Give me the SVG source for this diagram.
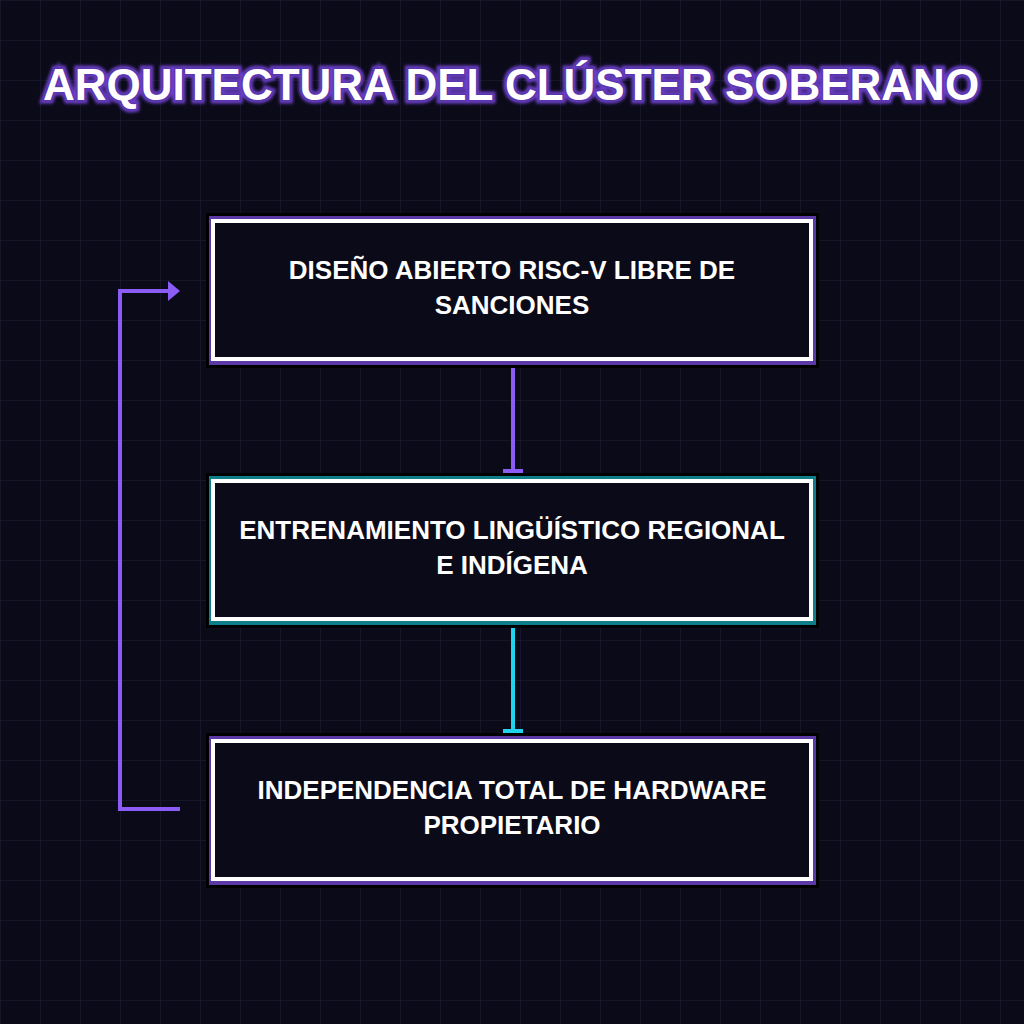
<svg xmlns="http://www.w3.org/2000/svg" width="1024" height="1024" viewBox="0 0 1024 1024">
<defs>
<pattern id="grid" width="40" height="40" patternUnits="userSpaceOnUse"><path d="M40 0H0V40" fill="none" stroke="#1a1a2e" stroke-width="1.5"/></pattern>
<marker id="arr" markerWidth="14" markerHeight="20" refX="6" refY="10" orient="auto" markerUnits="userSpaceOnUse"><path d="M0 0L12 10L0 20Z" fill="#8b5cf6"/></marker>
<filter id="glow" x="-10%" y="-50%" width="120%" height="200%"><feGaussianBlur stdDeviation="1.5"/></filter>
</defs>
<style>
.bk{fill:#000}
.in{fill:#0b0a19;stroke:#fff;stroke-width:4}
.lbl{font-family:"Liberation Sans",Arial,sans-serif;font-weight:bold;font-size:26px;fill:#fff;text-anchor:middle}
.ttl{font-family:"Liberation Sans",Arial,sans-serif;font-weight:bold;font-size:44px;text-anchor:middle}
</style>
<rect width="1024" height="1024" fill="#0b0a19"/>
<rect width="1024" height="1024" fill="url(#grid)"/>
<g id="title">
<text class="ttl" x="511" y="100" fill="#6a3fc7" stroke="#6a3fc7" stroke-width="7" filter="url(#glow)">ARQUITECTURA DEL CLÚSTER SOBERANO</text>
<text class="ttl" x="511" y="100" fill="#fff" stroke="#5b35b0" stroke-width="3" paint-order="stroke">ARQUITECTURA DEL CLÚSTER SOBERANO</text>
</g>
<g id="connectors" fill="none" stroke-width="4">
<path d="M513 360V471M503 471H523" stroke="#8b5cf6"/>
<path d="M513 621V731M503 731H523" stroke="#22d3ee"/>
<path d="M180 809H120V291H174" stroke="#8b5cf6" marker-end="url(#arr)"/>
</g>
<g id="n1">
<rect class="bk" x="206" y="213" width="613" height="155"/>
<rect x="209" y="216" width="607" height="149" fill="#5b3aa8"/>
<rect class="in" x="213" y="221" width="598" height="138"/>
<text class="lbl" x="512" y="279">DISEÑO ABIERTO RISC-V LIBRE DE</text>
<text class="lbl" x="512" y="314">SANCIONES</text>
</g>
<g id="n2">
<rect class="bk" x="206" y="473" width="613" height="155"/>
<rect x="209" y="476" width="607" height="149" fill="#0e7f8a"/>
<rect class="in" x="213" y="481" width="598" height="138"/>
<text class="lbl" x="512" y="539">ENTRENAMIENTO LINGÜÍSTICO REGIONAL</text>
<text class="lbl" x="512" y="574">E INDÍGENA</text>
</g>
<g id="n3">
<rect class="bk" x="206" y="733" width="613" height="155"/>
<rect x="209" y="736" width="607" height="149" fill="#5b3aa8"/>
<rect class="in" x="213" y="741" width="598" height="138"/>
<text class="lbl" x="512" y="799">INDEPENDENCIA TOTAL DE HARDWARE</text>
<text class="lbl" x="512" y="834">PROPIETARIO</text>
</g>
</svg>
